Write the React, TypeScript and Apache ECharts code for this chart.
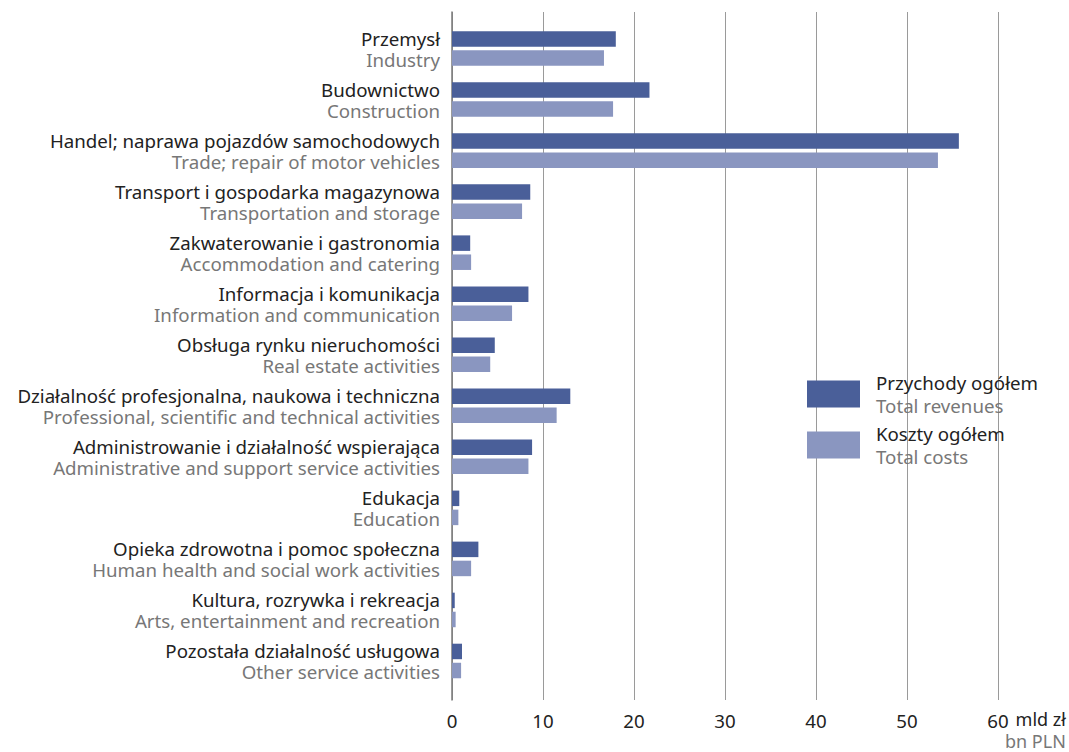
import React, { useEffect, useRef } from "react";
import * as echarts from "echarts";

const categoriesPl = [
  "Przemysł",
  "Budownictwo",
  "Handel; naprawa pojazdów samochodowych",
  "Transport i gospodarka magazynowa",
  "Zakwaterowanie i gastronomia",
  "Informacja i komunikacja",
  "Obsługa rynku nieruchomości",
  "Działalność profesjonalna, naukowa i techniczna",
  "Administrowanie i działalność wspierająca",
  "Edukacja",
  "Opieka zdrowotna i pomoc społeczna",
  "Kultura, rozrywka i rekreacja",
  "Pozostała działalność usługowa",
];
const categoriesEn = [
  "Industry",
  "Construction",
  "Trade; repair of motor vehicles",
  "Transportation and storage",
  "Accommodation and catering",
  "Information and communication",
  "Real estate activities",
  "Professional, scientific and technical activities",
  "Administrative and support service activities",
  "Education",
  "Human health and social work activities",
  "Arts, entertainment and recreation",
  "Other service activities",
];
const revenues = [18.0, 21.7, 55.7, 8.6, 2.0, 8.4, 4.7, 13.0, 8.8, 0.8, 2.9, 0.3, 1.1];
const costs = [16.7, 17.7, 53.4, 7.7, 2.1, 6.6, 4.2, 11.5, 8.4, 0.7, 2.1, 0.4, 1.0];
const seriesPl = ["Przychody ogółem", "Koszty ogółem"];
const seriesEn = ["Total revenues", "Total costs"];
const unitPl = "mld zł";
const unitEn = "bn PLN";

const FONT = "'Noto Sans', sans-serif";
const FS = 18.7;
const DARK = "#4a5f99";
const LIGHT = "#8a96c0";

export default function App() {
  const ref = useRef<HTMLDivElement>(null);
  useEffect(() => {
    if (!ref.current) return;
    const chart = echarts.init(ref.current, undefined, { renderer: "svg" });
    chart.setOption({
      animation: false,
      textStyle: { fontFamily: FONT },
      grid: [
        { left: 452, right: 71, top: 23, height: 663.5, containLabel: false, outerBoundsMode: "none" },
        { left: 452, right: 71, top: 12, bottom: 52, containLabel: false, outerBoundsMode: "none" },
      ],
      legend: {
        orient: "vertical",
        left: 807,
        top: 373,
        padding: 0,
        itemWidth: 53,
        itemHeight: 27,
        itemGap: 9,
        icon: "rect",
        data: seriesPl,
        formatter: (name: string) => {
          const i = seriesPl.indexOf(name);
          return `{pl|${name}}\n{en|${seriesEn[i]}}`;
        },
        textStyle: {
          rich: {
            pl: { fontSize: FS, color: "#222", fontFamily: FONT, lineHeight: 23, padding: [0, 0, 0, 11] },
            en: { fontSize: FS, color: "#777", fontFamily: FONT, lineHeight: 23, padding: [0, 0, 0, 11] },
          },
        },
      },
      xAxis: [
        { type: "value", gridIndex: 0, min: 0, max: 60, show: false },
        {
          type: "value",
          gridIndex: 1,
          min: 0,
          max: 60,
          interval: 10,
          axisLine: { show: false },
          axisTick: { show: false },
          splitLine: { show: true, lineStyle: { color: "#9a9a9a", width: 1 } },
          axisLabel: { fontSize: FS, color: "#222", fontFamily: FONT, margin: 11 },
          name: `{pl|${unitPl}}\n{en|${unitEn}}`,
          nameLocation: "end",
          nameGap: 7,
          nameMoveOverlap: false,
          nameTextStyle: {
            align: "left",
            verticalAlign: "top",
            padding: [8, 0, 0, 0],
            rich: {
              pl: { fontSize: 18, color: "#222", fontFamily: FONT, lineHeight: 22, align: "right" },
              en: { fontSize: 18, color: "#777", fontFamily: FONT, lineHeight: 22, align: "right" },
            },
          },
        },
      ],
      yAxis: [
        {
          type: "category",
          gridIndex: 0,
          inverse: true,
          data: categoriesPl,
          axisLine: { show: false },
          axisTick: { show: false },
          splitLine: { show: false },
          axisLabel: {
            margin: 12,
            formatter: (v: string, i: number) => `{pl|${v}}\n{en|${categoriesEn[i]}}`,
            rich: {
              pl: { fontSize: FS, color: "#222", fontFamily: FONT, lineHeight: 21, align: "right" },
              en: { fontSize: FS, color: "#777", fontFamily: FONT, lineHeight: 21, align: "right" },
            },
          },
        },
        {
          type: "value",
          gridIndex: 1,
          min: 0,
          max: 1,
          axisLine: { show: true, lineStyle: { color: "#7a7a7a", width: 1.5 } },
          axisTick: { show: false },
          axisLabel: { show: false },
          splitLine: { show: false },
        },
      ],
      series: [
        {
          name: seriesPl[0],
          type: "bar",
          xAxisIndex: 0,
          yAxisIndex: 0,
          data: revenues,
          barWidth: 15.5,
          barGap: "23%",
          itemStyle: { color: DARK },
        },
        {
          name: seriesPl[1],
          type: "bar",
          xAxisIndex: 0,
          yAxisIndex: 0,
          data: costs,
          barWidth: 15.5,
          barGap: "23%",
          itemStyle: { color: LIGHT },
        },
      ],
    });
    return () => chart.dispose();
  }, []);
  return <div ref={ref} style={{ width: 1069, height: 752, position: "absolute", left: 0, top: 0 }} />;
}
